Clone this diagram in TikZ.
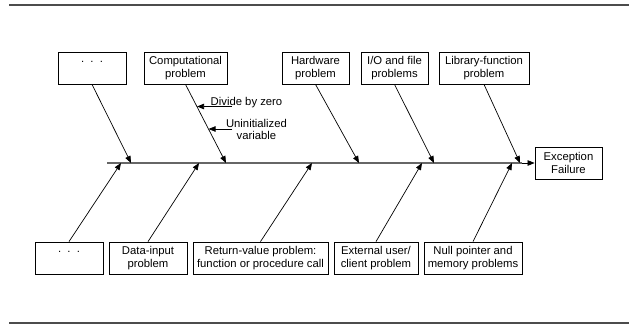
\documentclass[tikz,border=0pt]{standalone}
\usepackage{fontspec}
\setmainfont{Liberation Sans}
\usetikzlibrary{arrows.meta,calc}
\begin{document}
\begin{tikzpicture}[x=1pt,y=-1pt,
  box/.style={draw=black,line width=0.8pt,minimum height=32pt,inner sep=0pt,align=center,
    font=\fontsize{11.3}{12.7}\selectfont},
  lbl/.style={inner sep=0pt,align=center,font=\fontsize{11.3}{12.7}\selectfont},
  cause/.style={draw=black,line width=0.7pt,-{Triangle[length=7pt,width=5.5pt]}},
  spine/.style={draw=black!60,line width=1.3pt},
  rule/.style={draw=black!70,line width=1.5pt}]
\useasboundingbox (0,0) rectangle (629,324);
% rules
\coordinate (r1a) at (9,5); \coordinate (r1b) at (629,5);
\coordinate (r2a) at (9,323); \coordinate (r2b) at (629,323);
\draw[rule] (r1a) -- (r1b);
\draw[rule] (r2a) -- (r2b);
% spine
\coordinate (s0) at (107,163);
\coordinate (se) at (522,163);
\draw[spine] (s0) -- (se);
\node[box,minimum width=67pt] (exc) at (568.5,163) {Exception\\Failure};
\draw[cause] (se) -- (exc.west);
% top boxes
\node[box,minimum width=68pt] (tA) at (92,68) {.\hspace{0.55em}.\hspace{0.55em}.\\\mbox{}};
\node[box,minimum width=83pt] (tB) at (185.5,68) {Computational\\problem};
\node[box,minimum width=67pt] (tC) at (315.5,68) {Hardware\\problem};
\node[box,minimum width=67pt] (tD) at (394.5,68) {I/O and file\\problems};
\node[box,minimum width=90pt] (tE) at (484,68) {Library-function\\problem};
% bottom boxes
\node[box,minimum width=68pt] (bA) at (69,258) {.\hspace{0.55em}.\hspace{0.55em}.\\\mbox{}};
\node[box,minimum width=78pt] (bB) at (148,258) {Data-input\\problem};
\node[box,minimum width=135pt] (bC) at (260.5,258) {Return-value problem:\\function or procedure call};
\node[box,minimum width=84pt] (bD) at (376,258) {External user/\\client problem};
\node[box,minimum width=98pt] (bE) at (473,258) {Null pointer and\\memory problems};
% spine points
\coordinate (pA) at (131,163);
\coordinate (pB) at (226,163);
\coordinate (pC) at (359,163);
\coordinate (pD) at (434,163);
\coordinate (pE) at (520,163);
\coordinate (qA) at (121,163);
\coordinate (qB) at (199,163);
\coordinate (qC) at (312,163);
\coordinate (qD) at (422,163);
\coordinate (qE) at (512,163);
\draw[cause] (tA.south) -- (pA);
\draw[cause] (tB.south) -- (pB);
\draw[cause] (tC.south) -- (pC);
\draw[cause] (tD.south) -- (pD);
\draw[cause] (tE.south) -- (pE);
\draw[cause] (bA.north) -- (qA);
\draw[cause] (bB.north) -- (qB);
\draw[cause] (bC.north) -- (qC);
\draw[cause] (bD.north) -- (qD);
\draw[cause] (bE.north) -- (qE);
% sub-causes
\node[lbl] (div) at (246.5,102.5) {Divide by zero};
\node[lbl] (uni) at (256.5,129.5) {Uninitialized\\variable};
\coordinate (d0) at (232,106.5);
\coordinate (u0) at (232,129);
\coordinate (d1) at ($(tB.south)!0.285!(pB)$);
\coordinate (u1) at ($(tB.south)!0.57!(pB)$);
\draw[cause] (d0) -- (d0 -| d1);
\draw[cause] (u0) -- (u0 -| u1);
\end{tikzpicture}
\end{document}
